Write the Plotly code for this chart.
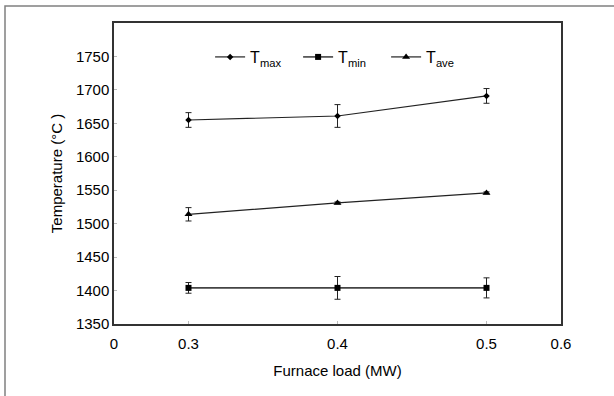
import plotly.graph_objects as go

loads = [0.3, 0.4, 0.5]
t_max = [1655, 1661, 1691]
t_max_err = [11, 17, 11]
t_min = [1404, 1404, 1404]
t_min_err = [8, 17, 15]
t_ave = [1514, 1531, 1546]
t_ave_err = [10, 1.5, 1.5]

x_tickvals = [0.25, 0.3, 0.4, 0.5, 0.55]
x_ticktext = ["0", "0.3", "0.4", "0.5", "0.6"]
y_tickvals = [1350, 1400, 1450, 1500, 1550, 1600, 1650, 1700, 1750]

FONT = "Liberation Sans, Arial, sans-serif"

fig = go.Figure()

def add(name, y, err, symbol, size, color, width):
    fig.add_trace(go.Scatter(
        x=loads, y=y, name=name, mode="lines+markers",
        line=dict(color=color, width=width),
        marker=dict(symbol=symbol, size=size, color="black"),
        error_y=dict(type="data", array=err, visible=True, color="#222", thickness=1, width=3),
    ))

add("T<sub>max</sub>", t_max, t_max_err, "diamond", 5, "#222", 1.2)
add("T<sub>min</sub>", t_min, t_min_err, "square", 6, "#444", 1.6)
add("T<sub>ave</sub>", t_ave, t_ave_err, "triangle-up", 7, "#222", 1.2)

fig.update_layout(
    width=614, height=396,
    margin=dict(l=114, r=53, t=23, b=72, autoexpand=False),
    paper_bgcolor="white", plot_bgcolor="white",
    font=dict(family=FONT, size=15, color="black"),
    showlegend=True,
    legend=dict(orientation="h", x=0.215, y=0.887, xanchor="left", yanchor="middle",
                bgcolor="rgba(0,0,0,0)", font=dict(size=16), entrywidth=43,
                itemwidth=30, tracegroupgap=0),
    xaxis=dict(range=[0.25, 0.55], tickvals=x_tickvals, ticktext=x_ticktext,
               showgrid=False, zeroline=False, showline=True, mirror=True,
               linecolor="#333", linewidth=1.5, ticks="inside", ticklen=3,
               tickcolor="#bbb", tickfont=dict(size=15), ticklabelstandoff=5,
               title=dict(text="Furnace load (MW)", font=dict(size=15), standoff=15)),
    yaxis=dict(range=[1350, 1800], tickvals=y_tickvals,
               showgrid=False, zeroline=False, showline=True, mirror=True,
               linecolor="#333", linewidth=1.5, ticks="inside", ticklen=3,
               tickcolor="#bbb", tickfont=dict(size=15),
               title=dict(text="Temperature (°C )", font=dict(size=15), standoff=10)),
    shapes=[dict(type="rect", xref="paper", yref="paper",
                 x0=(5 - 114) / 447, x1=(640 - 114) / 447,
                 y0=(324 - 420) / 301, y1=(324 - 6) / 301,
                 line=dict(color="#808080", width=1.5), fillcolor="rgba(0,0,0,0)",
                 layer="below")],
)

fig.write_html("out.html", config={"displayModeBar": False},
               post_script="document.body.style.margin='0';document.body.style.overflow='hidden';")
